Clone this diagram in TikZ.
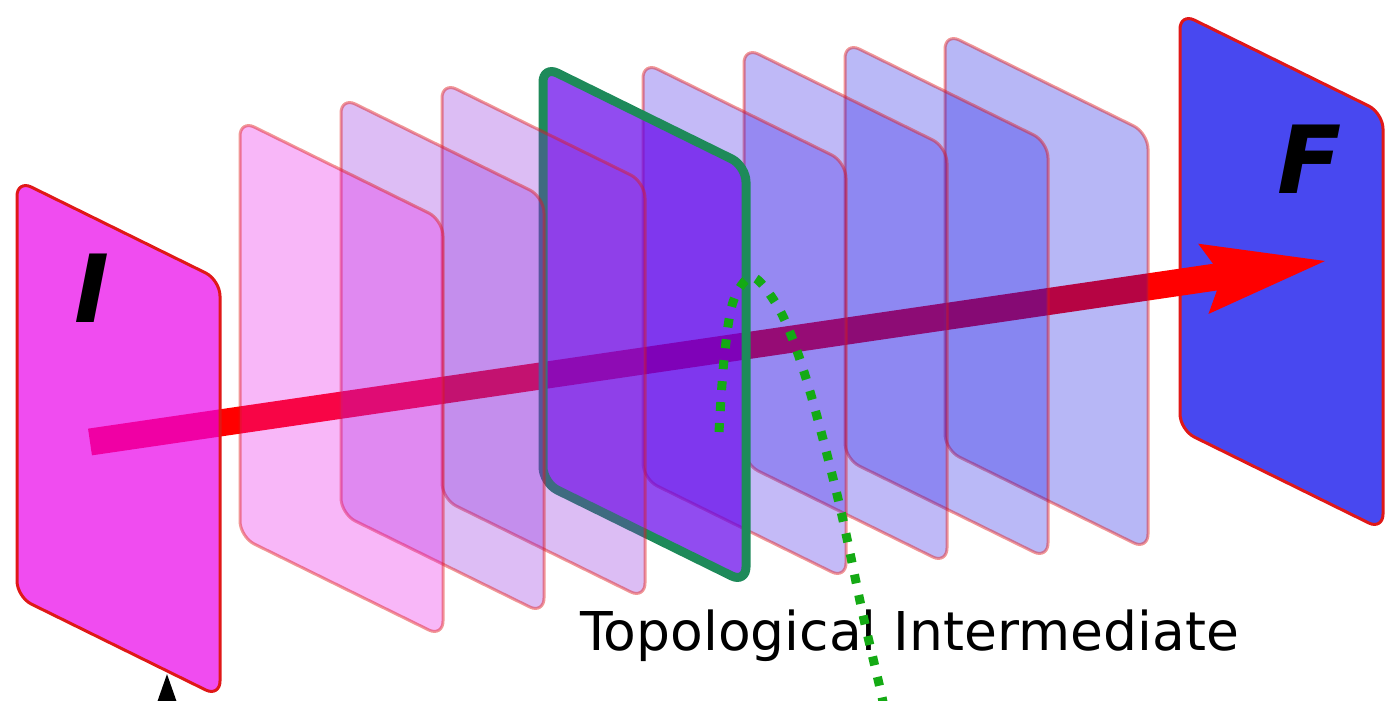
\documentclass[tikz,border=0pt]{standalone}
\usepackage{fontspec}
\setmainfont{DejaVu Sans}
\usetikzlibrary{arrows.meta}
\definecolor{pI}{HTML}{EA00EA}
\definecolor{pF}{HTML}{4848F0}
\definecolor{c1}{HTML}{E812E8}
\definecolor{c2}{HTML}{8E23DE}
\definecolor{c3}{HTML}{8A26DA}
\definecolor{cG}{HTML}{6300EA}
\definecolor{c5}{HTML}{3A1AE6}
\definecolor{c6}{HTML}{2A18E6}
\definecolor{c7}{HTML}{1A18E6}
\definecolor{c8}{HTML}{1010E0}
\definecolor{edgered}{HTML}{E01818}
\definecolor{gborder}{HTML}{1E8A5A}
\definecolor{dotgreen}{HTML}{14AA14}
\tikzset{
  panelshape/.style={rounded corners=16pt},
  endpanel/.style={panelshape, fill=#1, draw=edgered, line width=3pt},
  midpanel/.style={panelshape, fill=#1, fill opacity=0.3, draw=edgered, draw opacity=0.45, line width=3pt},
  keypanel/.style={panelshape, fill=cG, fill opacity=0.7, draw=gborder, line width=9pt},
  bigletter/.style={font=\fontsize{94}{94}\selectfont\bfseries\itshape, inner sep=0pt, text=black},
  caption/.style={font=\fontsize{53.5}{53.5}\selectfont, inner sep=0pt, anchor=base west},
  flow/.style={red, line width=27pt, -{Stealth[length=123pt, width=71pt, inset=19pt, line width=0pt]}},
  track/.style={dotgreen, line width=9pt, dash pattern=on 9pt off 12pt},
  pointer/.style={black, line width=3pt, -{Triangle[length=44pt, width=30pt]}},
}
\newcommand\panelpath[3]{\path[#3] (#1,#2) -- ++(203,100) -- ++(0,417) -- ++(-203,-100) -- cycle;}
\begin{document}
\begin{tikzpicture}[x=1pt, y=-1pt]
\useasboundingbox (0,0) rectangle (1386,701);
% final panel
\panelpath{1180}{13}{endpanel=pF}
\node[bigletter] (Flabel) at (1310,159) {F};
% main arrow
\coordinate (arrowstart) at (90,442);
\coordinate (arrowtip) at (1325,261);
\draw[flow] (arrowstart) -- (arrowtip);
% intermediate panels, back to front
\panelpath{945}{33}{midpanel=c8}
\panelpath{845}{42}{midpanel=c7}
\panelpath{744}{47}{midpanel=c6}
\panelpath{643}{62}{midpanel=c5}
\panelpath{543}{66}{keypanel}
\panelpath{442}{82}{midpanel=c3}
\panelpath{341}{97}{midpanel=c2}
\panelpath{240}{120}{midpanel=c1}
% initial panel
\panelpath{17}{180}{endpanel=pI, fill opacity=0.7}
\node[bigletter] (Ilabel) at (92,288) {I};
% caption
\node[caption] (cap) at (580,650) {Topological Intermediate};
% green dotted track
\draw[track] plot[smooth, tension=0.55] coordinates {(719,432) (724,360) (733,302) (752,277) (775,302) (793,340) (813,402) (840,507) (863,615) (882,697) (888,730)};
% black pointer at the bottom
\coordinate (pfrom) at (167,780);
\coordinate (ptip) at (167,674);
\draw[pointer] (pfrom) -- (ptip);
\end{tikzpicture}
\end{document}
